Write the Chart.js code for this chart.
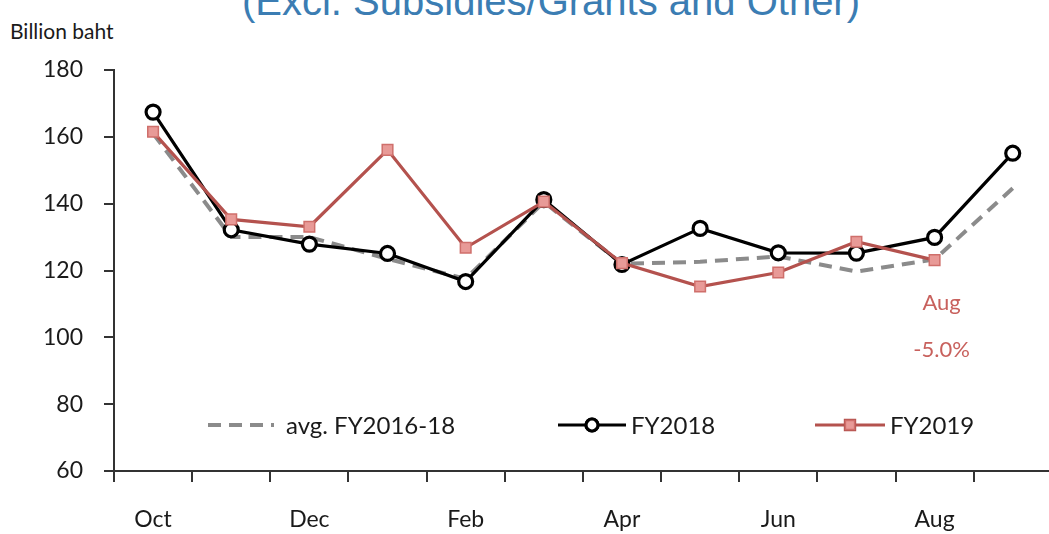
<!DOCTYPE html>
<html>
<head>
<meta charset="utf-8">
<script src="https://cdn.jsdelivr.net/npm/chart.js@4.4.1/dist/chart.umd.min.js"></script>
<style>
  html, body { margin: 0; padding: 0; background: #fff; overflow: hidden; }
  body { width: 1049px; height: 534px; position: relative; }
  #title {
    position: absolute; left: 0; width: 1102px; top: -19px;
    text-align: center; font: 40px/40px 'Liberation Sans', Arial, sans-serif;
    color: #3b7db3; white-space: nowrap;
  }
  #unit {
    position: absolute; left: 10px; top: 18px;
    font: 21px Lato, sans-serif; color: #1a1a1a;
  }
  #wrap { position: absolute; left: 0; top: 0; }
</style>
</head>
<body>
<div id="title">(Excl. Subsidies/Grants and Other)</div>
<div id="unit">Billion baht</div>
<div id="wrap"><canvas id="chart" width="1062" height="534"></canvas></div>
<script>
// Monthly revenue, fiscal year starting in October
const months = ['Oct', 'Nov', 'Dec', 'Jan', 'Feb', 'Mar', 'Apr', 'May', 'Jun', 'Jul', 'Aug', 'Sep'];
const shownMonths = ['Oct', 'Dec', 'Feb', 'Apr', 'Jun', 'Aug'];

const avgFY1618 = [161, 130, 130, 123.5, 117.5, 140.5, 122, 122.6, 124.2, 119.7, 123.3, 144.6];
const fy2018 = [167.4, 132.2, 127.9, 125.1, 116.7, 141.2, 121.8, 132.6, 125.3, 125.2, 129.9, 155.1];
const fy2019 = [161.5, 135.3, 133.1, 156.1, 126.8, 140.6, 122.2, 115.2, 119.4, 128.6, 123.1];

const yTicks = [60, 80, 100, 120, 140, 160, 180];
const annotationLines = ['Aug', '-5.0%'];

const FONT = "Lato, 'Open Sans', sans-serif";
const AXIS_COLOR = '#333';

// legend sits inside the plot area, near the bottom
const legendInside = {
    id: 'legendInside',
    afterDraw(chart) {
        const ctx = chart.ctx;
        const area = chart.chartArea;
        const y = area.bottom - 46;
        const items = [
            { ds: 0, x: 94, len: 66, gap: 12 },
            { ds: 1, x: 444, len: 68, gap: 5 },
            { ds: 2, x: 701, len: 70, gap: 5 }
        ];
        ctx.save();
        items.forEach(it => {
            const ds = chart.data.datasets[it.ds];
            const x0 = area.left + it.x;
            ctx.beginPath();
            ctx.setLineDash(ds.borderDash || []);
            ctx.strokeStyle = ds.borderColor;
            ctx.lineWidth = ds.borderWidth;
            ctx.moveTo(x0, y);
            ctx.lineTo(x0 + it.len, y);
            ctx.stroke();
            ctx.setLineDash([]);
            if (ds.pointRadius > 0) {
                Chart.helpers.drawPoint(ctx, {
                    pointStyle: ds.pointStyle,
                    radius: ds.pointRadius - 1,
                    rotation: 0,
                    borderWidth: ds.pointBorderWidth
                }, x0 + it.len / 2, y);
                ctx.fillStyle = ds.pointBackgroundColor;
                ctx.strokeStyle = ds.pointBorderColor;
                ctx.lineWidth = ds.pointBorderWidth;
                ctx.fill();
                ctx.stroke();
            }
            ctx.fillStyle = '#1a1a1a';
            ctx.font = '24px ' + FONT;
            ctx.textBaseline = 'middle';
            ctx.textAlign = 'left';
            ctx.fillText(ds.label, x0 + it.len + it.gap, y + 1);
        });

        // August growth note under the FY2019 line
        const xs = chart.scales.x;
        const ax = xs.getPixelForValue(10) + 7;
        ctx.fillStyle = '#c8615d';
        ctx.font = '22px ' + FONT;
        ctx.textAlign = 'center';
        ctx.fillText(annotationLines[0], ax, area.top + 233);
        ctx.fillText(annotationLines[1], ax, area.top + 280);
        ctx.restore();
    }
};

new Chart(document.getElementById('chart'), {
    type: 'line',
    data: {
        labels: months,
        datasets: [
            {
                label: 'avg. FY2016-18',
                data: avgFY1618,
                borderColor: '#8b8b8b',
                borderWidth: 4,
                borderDash: [13, 8],
                pointRadius: 0,
                order: 3
            },
            {
                label: 'FY2018',
                data: fy2018,
                borderColor: '#000',
                borderWidth: 3.2,
                pointStyle: 'circle',
                pointRadius: 7,
                pointBackgroundColor: '#fff',
                pointBorderColor: '#000',
                pointBorderWidth: 3.2,
                order: 2
            },
            {
                label: 'FY2019',
                data: fy2019,
                borderColor: '#b4524e',
                borderWidth: 3.2,
                pointStyle: 'rect',
                pointRadius: 7.5,
                pointBackgroundColor: '#e89a97',
                pointBorderColor: '#cf6f6b',
                pointBorderWidth: 1.5,
                order: 1
            }
        ]
    },
    options: {
        responsive: false,
        animation: false,
        layout: { padding: { top: 70, right: 0, left: 0, bottom: 0 } },
        plugins: {
            legend: { display: false },
            tooltip: { enabled: false }
        },
        scales: {
            x: {
                offset: true,
                grid: {
                    offset: true,
                    drawOnChartArea: false,
                    drawTicks: true,
                    tickLength: 11,
                    color: AXIS_COLOR,
                    lineWidth: 2
                },
                border: { color: AXIS_COLOR, width: 2 },
                ticks: {
                    autoSkip: false,
                    maxRotation: 0,
                    padding: 24,
                    color: '#1a1a1a',
                    font: { family: FONT, size: 23 },
                    callback: (v, i) => shownMonths.includes(months[i]) ? months[i] : ''
                },
                afterFit: s => { s.height = 63; }
            },
            y: {
                min: yTicks[0],
                max: yTicks[yTicks.length - 1],
                afterBuildTicks: s => { s.ticks = yTicks.map(v => ({ value: v })); },
                grid: {
                    drawOnChartArea: false,
                    drawTicks: true,
                    tickLength: 10,
                    color: AXIS_COLOR,
                    lineWidth: 2
                },
                border: { color: AXIS_COLOR, width: 2 },
                ticks: {
                    padding: 21,
                    color: '#1a1a1a',
                    font: { family: FONT, size: 23 }
                },
                afterFit: s => { s.width = 114; }
            }
        }
    },
    plugins: [legendInside]
});
</script>
</body>
</html>
